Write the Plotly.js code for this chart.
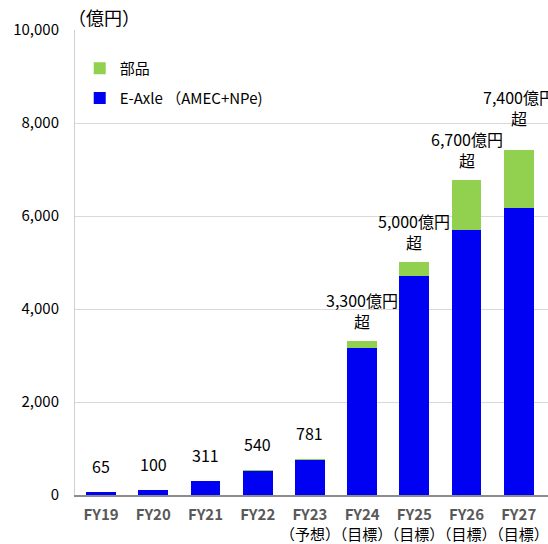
<!DOCTYPE html>
<html><head><meta charset="utf-8">
<script src="https://cdn.plot.ly/plotly-3.0.1.min.js"></script>
<style>html,body{margin:0;padding:0;background:#fff}#chart{width:548px;height:544px}</style>
</head><body><div id="chart"></div>
<script>
const categories = ['FY19','FY20','FY21','FY22','FY23','FY24','FY25','FY26','FY27'];
const subLabels = ['','','','','（予想）','（目標）','（目標）','（目標）','（目標）'];
const eaxle = [65, 100, 311, 510, 760, 3170, 4720, 5700, 6180];
const parts = [0, 0, 0, 30, 21, 150, 290, 1070, 1250];
const totalLabels = ['65','100','311','540','781','3,300億円<br>超','5,000億円<br>超','6,700億円<br>超','7,400億円<br>超'];

const FONT = '"Noto Sans CJK JP", sans-serif';
const tickText = categories.map((c,i)=> subLabels[i] ? c + '<br><span style="color:#000;font-weight:normal">' + subLabels[i] + '</span>' : c);

const traces = [
  {type:'bar', name:'E-Axle （AMEC+NPe)', x:categories, y:eaxle, marker:{color:'#0000F2'}, legend:'legend2', hoverinfo:'skip'},
  {type:'bar', name:'部品', x:categories, y:parts, marker:{color:'#92D050'}, legend:'legend', hoverinfo:'skip'}
];

const annotations = categories.map((c,i)=>({
  x:c, y:eaxle[i]+parts[i], xref:'x', yref:'y', text:totalLabels[i], showarrow:false,
  yanchor:'bottom', yshift: i<5 ? 12 : (i===8 ? 18 : 6),
  font:{family:FONT, size:16, color:'#000'}
}));
annotations.push({xref:'paper', yref:'paper', x:-0.02, y:0.995, xanchor:'left', yanchor:'bottom',
  text:'（億円）', showarrow:false, font:{family:FONT, size:18, color:'#000'}});

const layout = {
  width:548, height:544,
  margin:{l:75, r:0, t:30, b:49},
  paper_bgcolor:'#fff', plot_bgcolor:'#fff',
  barmode:'stack', bargap:0.43,
  showlegend:true,
  font:{family:FONT, color:'#000'},
  xaxis:{type:'category', range:[-0.5, 8.56], tickvals:categories, ticktext:tickText, tickangle:0,
    showline:true, linecolor:'#8c8c8c', linewidth:2, showgrid:false, ticks:'',
    tickfont:{family:FONT, size:15, color:'#595959', weight:'bold'}, ticklabelstandoff:5},
  yaxis:{range:[0,10000], tickvals:[0,2000,4000,6000,8000,10000], tickformat:',',
    showgrid:true, gridcolor:'#d9d9d9', gridwidth:1, zeroline:false,
    showline:true, linecolor:'#d0d0d0', linewidth:1, ticks:'',
    tickfont:{family:FONT, size:15, color:'#000'}, ticklabelstandoff:12},
  legend:{x:0.01, y:0.917, xanchor:'left', yanchor:'middle', bgcolor:'rgba(0,0,0,0)',
    font:{family:FONT, size:15, color:'#000'}, itemwidth:30},
  legend2:{x:0.01, y:0.853, xanchor:'left', yanchor:'middle', bgcolor:'rgba(0,0,0,0)',
    font:{family:FONT, size:15, color:'#000'}, itemwidth:30},
  annotations:annotations
};
Plotly.newPlot('chart', traces, layout, {staticPlot:true, displayModeBar:false});
</script></body></html>
